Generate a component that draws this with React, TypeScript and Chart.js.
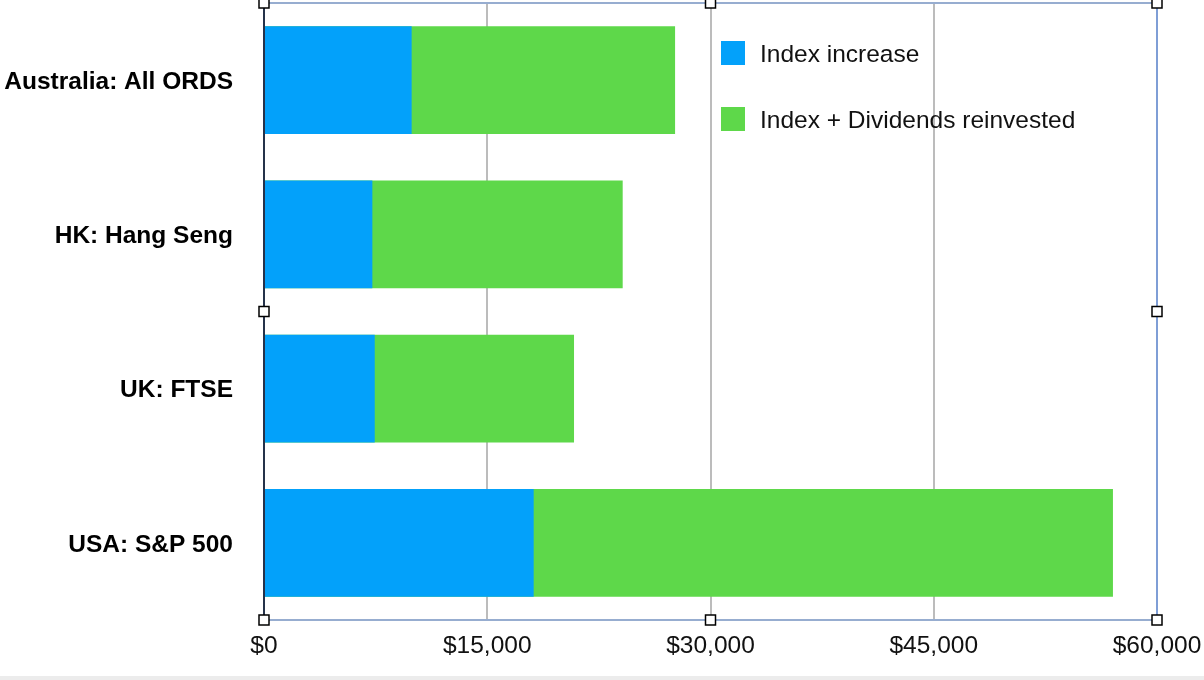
import React, { useEffect, useRef } from "react";
import { Chart, registerables } from "chart.js";

Chart.register(...registerables);

const categories = ["Australia: All ORDS", "HK: Hang Seng", "UK: FTSE", "USA: S&P 500"];
const indexIncrease = [9920, 7280, 7440, 18120];
const withDividends = [27620, 24100, 20830, 57040];
const seriesNames = ["Index increase", "Index + Dividends reinvested"];
const seriesColors = ["#03A1FA", "#5ED84A"];
const xTicks = [0, 15000, 30000, 45000, 60000];

const FONT = "'Liberation Sans', Arial, Helvetica, sans-serif";
const FS = 24.5;

const overlayPlugin = {
  id: "overlay",
  afterDraw(chart: any) {
    const { ctx, chartArea } = chart;
    const { left, right, top, bottom } = chartArea;
    ctx.save();
    // Legend inside chart area
    ctx.font = `${FS}px ${FONT}`;
    ctx.textBaseline = "middle";
    ctx.textAlign = "left";
    const lx = left + 457;
    chart.data.datasets.forEach((ds: any, i: number) => {
      const cy = top + 50 + i * 66;
      ctx.fillStyle = ds.backgroundColor;
      ctx.fillRect(lx, cy - 12, 24, 24);
      ctx.fillStyle = "#111";
      ctx.fillText(ds.label, lx + 39, cy + 2);
    });
    // selection frame
    ctx.strokeStyle = "#97add0";
    ctx.lineWidth = 2;
    ctx.beginPath();
    ctx.moveTo(left, top);
    ctx.lineTo(right, top);
    ctx.moveTo(left, bottom);
    ctx.lineTo(right, bottom);
    ctx.stroke();
    ctx.strokeStyle = "#7f9ed6";
    ctx.beginPath();
    ctx.moveTo(right, top);
    ctx.lineTo(right, bottom);
    ctx.stroke();
    // y axis line
    ctx.strokeStyle = "#25324a";
    ctx.lineWidth = 2;
    ctx.beginPath();
    ctx.moveTo(left, top);
    ctx.lineTo(left, bottom);
    ctx.stroke();
    // handles
    const midX = (left + right) / 2;
    const midY = (top + bottom) / 2;
    const pts = [
      [left, top], [midX, top], [right, top],
      [left, midY], [right, midY],
      [left, bottom], [midX, bottom], [right, bottom],
    ];
    ctx.lineWidth = 1.5;
    ctx.strokeStyle = "#000";
    ctx.fillStyle = "#fff";
    pts.forEach(([x, y]) => {
      ctx.fillRect(x - 5, y - 5, 10, 10);
      ctx.strokeRect(x - 5, y - 5, 10, 10);
    });
    // bottom strip
    ctx.fillStyle = "#ececec";
    ctx.fillRect(0, chart.height - 4, chart.width, 4);
    ctx.restore();
  },
};

export default function App() {
  const ref = useRef<HTMLCanvasElement>(null);
  useEffect(() => {
    document.body.style.margin = "0";
    const chart = new Chart(ref.current!, {
      type: "bar",
      data: {
        labels: categories,
        datasets: [
          {
            label: seriesNames[0],
            data: indexIncrease,
            backgroundColor: seriesColors[0],
            barPercentage: 0.7,
            categoryPercentage: 1,
          },
          {
            label: seriesNames[1],
            data: withDividends,
            backgroundColor: seriesColors[1],
            barPercentage: 0.7,
            categoryPercentage: 1,
          },
        ],
      },
      options: {
        indexAxis: "y",
        animation: false,
        responsive: false,
        devicePixelRatio: 1,
        layout: { padding: { top: 3, right: 47, left: 0, bottom: 0 } },
        plugins: { legend: { display: false }, tooltip: { enabled: false } },
        scales: {
          y: {
            stacked: true,
            grid: { display: false, drawTicks: false },
            border: { display: false },
            ticks: {
              color: "#000",
              padding: 31,
              labelOffset: 2,
              font: { family: FONT, size: FS, weight: "bold" },
            },
            afterFit(scale: any) {
              scale.width = 264;
              scale.paddingTop = 0;
              scale.paddingBottom = 0;
            },
          },
          x: {
            stacked: false,
            min: 0,
            max: 60000,
            afterBuildTicks(scale: any) {
              scale.ticks = xTicks.map((v) => ({ value: v }));
            },
            grid: { color: "#bcbcbc", lineWidth: 2, drawTicks: false },
            border: { display: false },
            ticks: {
              color: "#111",
              padding: 12,
              maxRotation: 0,
              font: { family: FONT, size: FS },
              callback: (v: any) => "$" + Number(v).toLocaleString("en-US"),
            },
            afterFit(scale: any) {
              scale.height = 60;
              scale.paddingLeft = 0;
              scale.paddingRight = 0;
            },
          },
        },
      },
      plugins: [overlayPlugin],
    });
    return () => chart.destroy();
  }, []);
  return (
    <div style={{ width: 1204, height: 680 }}>
      <canvas ref={ref} width={1204} height={680} style={{ display: "block" }} />
    </div>
  );
}
